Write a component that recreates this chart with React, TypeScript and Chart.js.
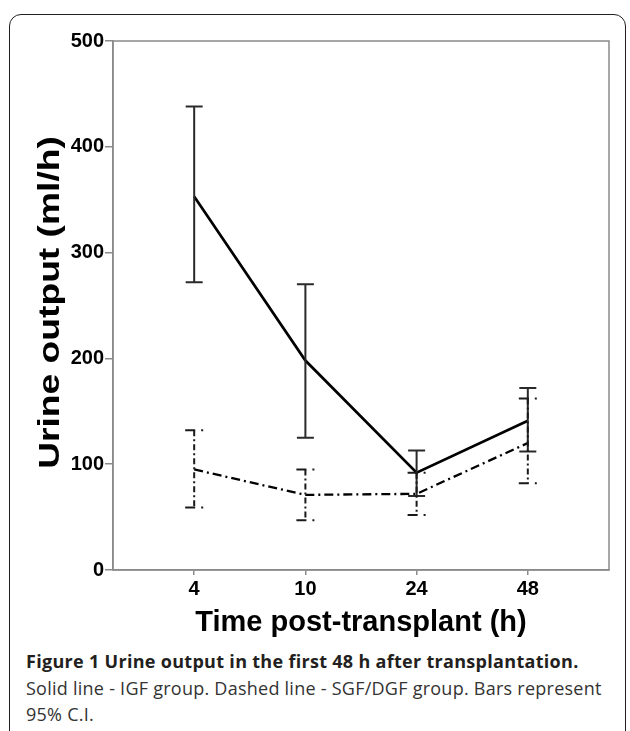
import React, { useEffect, useRef } from "react";
import { Chart, registerables } from "chart.js";

Chart.register(...registerables);

// ---- data ----
const timeLabels = ["4", "10", "24", "48"];
const igfMean = [353, 198, 92, 141];
const igfLow = [272, 125, 70, 112];
const igfHigh = [438, 270, 113, 172];
const sgfMean = [95, 71, 72, 120];
const sgfLow = [59, 47, 52, 82];
const sgfHigh = [132, 95, 92, 162];
const yTicks = [0, 100, 200, 300, 400, 500];
const yTitle = "Urine output (ml/h)";
const xTitle = "Time post-transplant (h)";

const AXIS_FONT = "'Liberation Sans', Arial, sans-serif";

const errorBarPlugin = {
  id: "errorBars",
  afterDatasetsDraw(chart: any) {
    const { ctx, scales } = chart;
    const xs = scales.x;
    const ys = scales.y;
    const cap = 8.5;
    ctx.save();
    ctx.strokeStyle = "#2a2a2a";
    ctx.lineWidth = 2;
    ctx.setLineDash([]);
    igfMean.forEach((_, i) => {
      const x = xs.getPixelForValue(i);
      const yl = ys.getPixelForValue(igfLow[i]);
      const yh = ys.getPixelForValue(igfHigh[i]);
      ctx.beginPath();
      ctx.moveTo(x, yh);
      ctx.lineTo(x, yl);
      ctx.moveTo(x - cap, yh);
      ctx.lineTo(x + cap, yh);
      ctx.moveTo(x - cap, yl);
      ctx.lineTo(x + cap, yl);
      ctx.stroke();
    });
    ctx.strokeStyle = "#1a1a1a";
    sgfMean.forEach((_, i) => {
      const x = xs.getPixelForValue(i);
      const yl = ys.getPixelForValue(sgfLow[i]);
      const yh = ys.getPixelForValue(sgfHigh[i]);
      ctx.lineWidth = 2;
      ctx.setLineDash([6, 3, 2, 3]);
      ctx.beginPath();
      ctx.moveTo(x, yh);
      ctx.lineTo(x, yl);
      ctx.stroke();
      ctx.setLineDash([10, 6, 2, 20]);
      ctx.beginPath();
      ctx.moveTo(x - 9, yh);
      ctx.lineTo(x + 9, yh);
      ctx.moveTo(x - 9, yl);
      ctx.lineTo(x + 9, yl);
      ctx.stroke();
    });
    ctx.restore();
  },
  beforeDatasetsDraw(chart: any) {
    const { ctx, chartArea } = chart;
    ctx.save();
    ctx.strokeStyle = "#8a8a8a";
    ctx.lineWidth = 1.5;
    ctx.strokeRect(chartArea.left, chartArea.top, chartArea.right - chartArea.left, chartArea.bottom - chartArea.top);
    ctx.restore();
  },
  afterDraw(chart: any) {
    // y-axis title, drawn elongated along its reading direction like the source figure
    const { ctx, chartArea } = chart;
    ctx.save();
    ctx.translate(51, (chartArea.top + chartArea.bottom) / 2 - 3);
    ctx.rotate(-Math.PI / 2);
    ctx.scale(1.24, 1);
    ctx.font = `bold 30px ${AXIS_FONT}`;
    ctx.fillStyle = "#000";
    ctx.textAlign = "center";
    ctx.textBaseline = "middle";
    ctx.fillText(yTitle, 0, 0);
    ctx.restore();
  },
};

function UrineChart() {
  const ref = useRef<HTMLCanvasElement | null>(null);
  useEffect(() => {
    if (!ref.current) return;
    const chart = new Chart(ref.current, {
      type: "line",
      data: {
        datasets: [
          {
            label: "IGF",
            data: igfMean.map((v, i) => ({ x: i, y: v })),
            borderColor: "#000",
            borderWidth: 2.7,
            pointRadius: 0,
            fill: false,
            tension: 0,
          },
          {
            label: "SGF/DGF",
            data: sgfMean.map((v, i) => ({ x: i, y: v })),
            borderColor: "#000",
            borderWidth: 2.3,
            borderDash: [9, 4, 2, 4],
            pointRadius: 0,
            fill: false,
            tension: 0,
          },
        ],
      },
      options: {
        animation: false,
        responsive: false,
        devicePixelRatio: 1,
        layout: { padding: { top: 41, right: 21, left: 0, bottom: 0 } },
        plugins: { legend: { display: false }, tooltip: { enabled: false } },
        scales: {
          x: {
            type: "linear",
            min: -0.73,
            max: 3.73,
            afterBuildTicks: (s: any) => {
              s.ticks = timeLabels.map((_, i) => ({ value: i }));
            },
            afterFit: (s: any) => {
              s.height = 72;
            },
            ticks: {
              callback: (v: any) => timeLabels[Math.round(Number(v))] ?? "",
              font: { family: AXIS_FONT, size: 20, weight: "bold" },
              color: "#000",
              padding: 2,
              maxRotation: 0,
            },
            grid: { display: true, drawOnChartArea: false, drawTicks: true, tickLength: 5, color: "#8a8a8a", lineWidth: 1.5 },
            border: { display: true, color: "#8a8a8a", width: 1.5 },
            title: {
              display: true,
              text: xTitle,
              font: { family: AXIS_FONT, size: 29, weight: "bold" },
              color: "#000",
              padding: { top: 0, bottom: 2 },
            },
          },
          y: {
            type: "linear",
            min: 0,
            max: 500,
            afterBuildTicks: (s: any) => {
              s.ticks = yTicks.map((v) => ({ value: v }));
            },
            afterFit: (s: any) => {
              s.width = 113;
            },
            ticks: {
              font: { family: AXIS_FONT, size: 20, weight: "bold" },
              color: "#000",
              padding: 1,
            },
            grid: { display: true, drawOnChartArea: false, drawTicks: true, tickLength: 8, color: "#8a8a8a", lineWidth: 1.5 },
            border: { display: true, color: "#8a8a8a", width: 1.5 },
            title: { display: false },
          },
        },
      },
      plugins: [errorBarPlugin],
    } as any);
    return () => chart.destroy();
  }, []);
  return <canvas ref={ref} width={630} height={642} style={{ position: "absolute", left: 0, top: 0, width: 630, height: 642 }} />;
}

export default function App() {
  return (
    <div style={{ position: "absolute", left: 0, top: 0, width: 630, height: 731, overflow: "hidden", background: "#fff" }}>
      <div
        style={{
          position: "absolute",
          left: 9,
          top: 14,
          width: 617,
          height: 780,
          border: "1.6px solid #231f20",
          borderRadius: 12,
          boxSizing: "border-box",
        }}
      />
      <UrineChart />
      <div
        style={{
          position: "absolute",
          left: 26,
          top: 648,
          width: 600,
          fontFamily: "'Open Sans', sans-serif",
          fontSize: 18,
          lineHeight: "26.5px",
          color: "#333",
          whiteSpace: "nowrap",
        }}
      >
        <div style={{ fontWeight: 700, color: "#231f20", letterSpacing: 0.3 }}>Figure 1 Urine output in the first 48 h after transplantation.</div>
        <div style={{ letterSpacing: 0.25 }}>Solid line - IGF group. Dashed line - SGF/DGF group. Bars represent</div>
        <div style={{ letterSpacing: 0.25 }}>95% C.I.</div>
      </div>
    </div>
  );
}
